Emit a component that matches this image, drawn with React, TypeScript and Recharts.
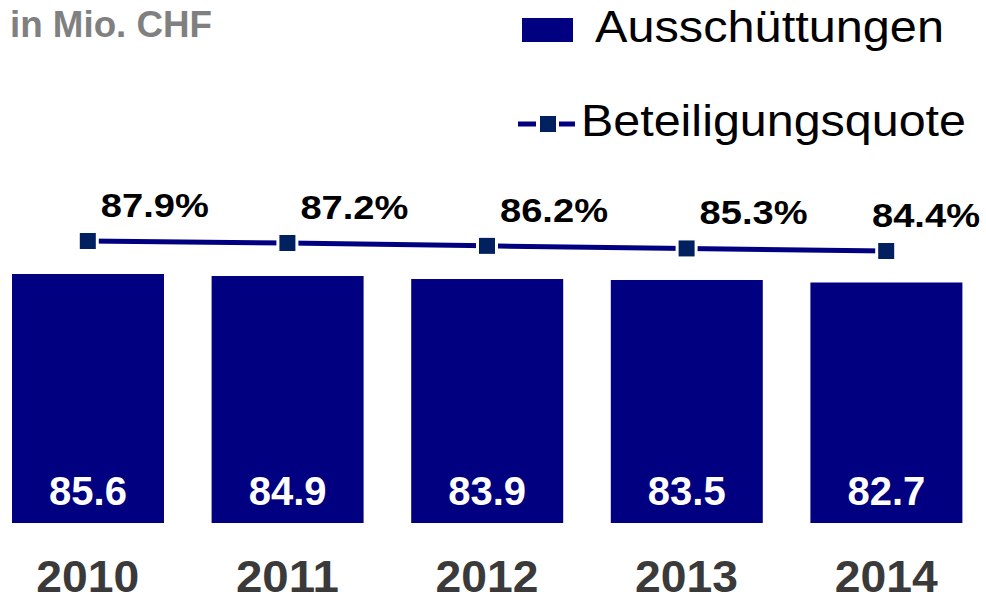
import { ComposedChart, Bar, Line, XAxis, YAxis, Legend, LabelList } from 'recharts';

const years = ['2010', '2011', '2012', '2013', '2014'];
const ausschuettungen = [85.6, 84.9, 83.9, 83.5, 82.7];
const beteiligungsquote = [87.9, 87.2, 86.2, 85.3, 84.4];

const data = years.map((year, i) => ({
  year,
  aus: ausschuettungen[i],
  quote: beteiligungsquote[i],
}));

const FONT = '"Liberation Sans", Arial, sans-serif';
const BAR_COLOR = '#000080';
const MARKER_COLOR = '#002060';

// chart is shifted 12px left so the first band starts off-page like in the original
const SHIFT = 12;
const CHART_W = 998;

const YearTick = (props: any) => {
  const { x, payload } = props;
  return (
    <text
      x={x}
      y={592}
      textAnchor="middle"
      fontFamily={FONT}
      fontWeight="bold"
      fontSize={44}
      fill="#3a3a3a"
      textLength={103}
      lengthAdjust="spacingAndGlyphs"
    >
      {payload.value}
    </text>
  );
};

const BarValue = (props: any) => {
  const { x, y, width, height, value } = props;
  return (
    <text x={x + width / 2} y={y + height - 18} textAnchor="middle" fontFamily={FONT} fontWeight="bold" fontSize={40} fill="#ffffff">
      {Number(value).toFixed(1)}
    </text>
  );
};

const QuoteValue = (props: any) => {
  const { x, y, value } = props;
  // keep the label inside the right edge, like the last one in the original
  const cx = Math.min(x + 67, CHART_W - 6 - 54);
  return (
    <text
      x={cx}
      y={y - 24}
      textAnchor="middle"
      fontFamily={FONT}
      fontWeight="bold"
      fontSize={34}
      fill="#000000"
      textLength={108}
      lengthAdjust="spacingAndGlyphs"
    >
      {`${Number(value).toFixed(1)}%`}
    </text>
  );
};

const SquareDot = (props: any) => {
  const { cx, cy } = props;
  if (cx == null || cy == null) return null;
  return (
    <g>
      <rect x={cx - 11} y={cy - 11} width={22} height={22} fill="#ffffff" />
      <rect x={cx - 8} y={cy - 8} width={16} height={16} fill={MARKER_COLOR} />
    </g>
  );
};

const renderLegend = () => (
  <svg width={CHART_W} height={160} style={{ display: 'block' }}>
    <text
      x={10 + SHIFT}
      y={37}
      fontFamily={FONT}
      fontWeight="bold"
      fontSize={36}
      fill="#808080"
      textLength={202}
      lengthAdjust="spacingAndGlyphs"
    >
      in Mio. CHF
    </text>
    <rect x={522 + SHIFT} y={18} width={51} height={24} fill={BAR_COLOR} />
    <text
      x={595 + SHIFT}
      y={42}
      fontFamily={FONT}
      fontSize={45}
      fill="#000000"
      textLength={349}
      lengthAdjust="spacingAndGlyphs"
    >
      Ausschüttungen
    </text>
    <line x1={518 + SHIFT} y1={124} x2={575 + SHIFT} y2={124} stroke={BAR_COLOR} strokeWidth={5} />
    <rect x={536 + SHIFT} y={113} width={23} height={22} fill="#ffffff" />
    <rect x={540 + SHIFT} y={116} width={16} height={16} fill={MARKER_COLOR} />
    <text
      x={581 + SHIFT}
      y={136}
      fontFamily={FONT}
      fontSize={45}
      fill="#000000"
      textLength={385}
      lengthAdjust="spacingAndGlyphs"
    >
      Beteiligungsquote
    </text>
  </svg>
);

export default function App() {
  return (
    <div style={{ position: 'absolute', left: -SHIFT, top: 0, width: CHART_W, height: 603 }}>
      <ComposedChart
        width={CHART_W}
        height={603}
        data={data}
        margin={{ top: 100, right: 0, bottom: 0, left: 0 }}
        barCategoryGap={47}
      >
        <XAxis dataKey="year" height={80} axisLine={false} tickLine={false} tick={<YearTick />} interval={0} />
        <YAxis yAxisId="left" hide domain={[0, 145.4]} allowDataOverflow />
        <YAxis yAxisId="right" orientation="right" hide domain={[-10.7, 137.2]} allowDataOverflow />
        <Legend
          layout="horizontal"
          align="center"
          verticalAlign="middle"
          wrapperStyle={{ top: 0, left: 0, width: CHART_W }}
          content={renderLegend}
        />
        <Bar yAxisId="left" dataKey="aus" name="Ausschüttungen" fill={BAR_COLOR} barSize={152} isAnimationActive={false}>
          <LabelList dataKey="aus" content={<BarValue />} />
        </Bar>
        <Line
          yAxisId="right"
          dataKey="quote"
          name="Beteiligungsquote"
          stroke={BAR_COLOR}
          strokeWidth={5}
          dot={<SquareDot />}
          activeDot={false}
          isAnimationActive={false}
        >
          <LabelList dataKey="quote" content={<QuoteValue />} />
        </Line>
      </ComposedChart>
    </div>
  );
}
